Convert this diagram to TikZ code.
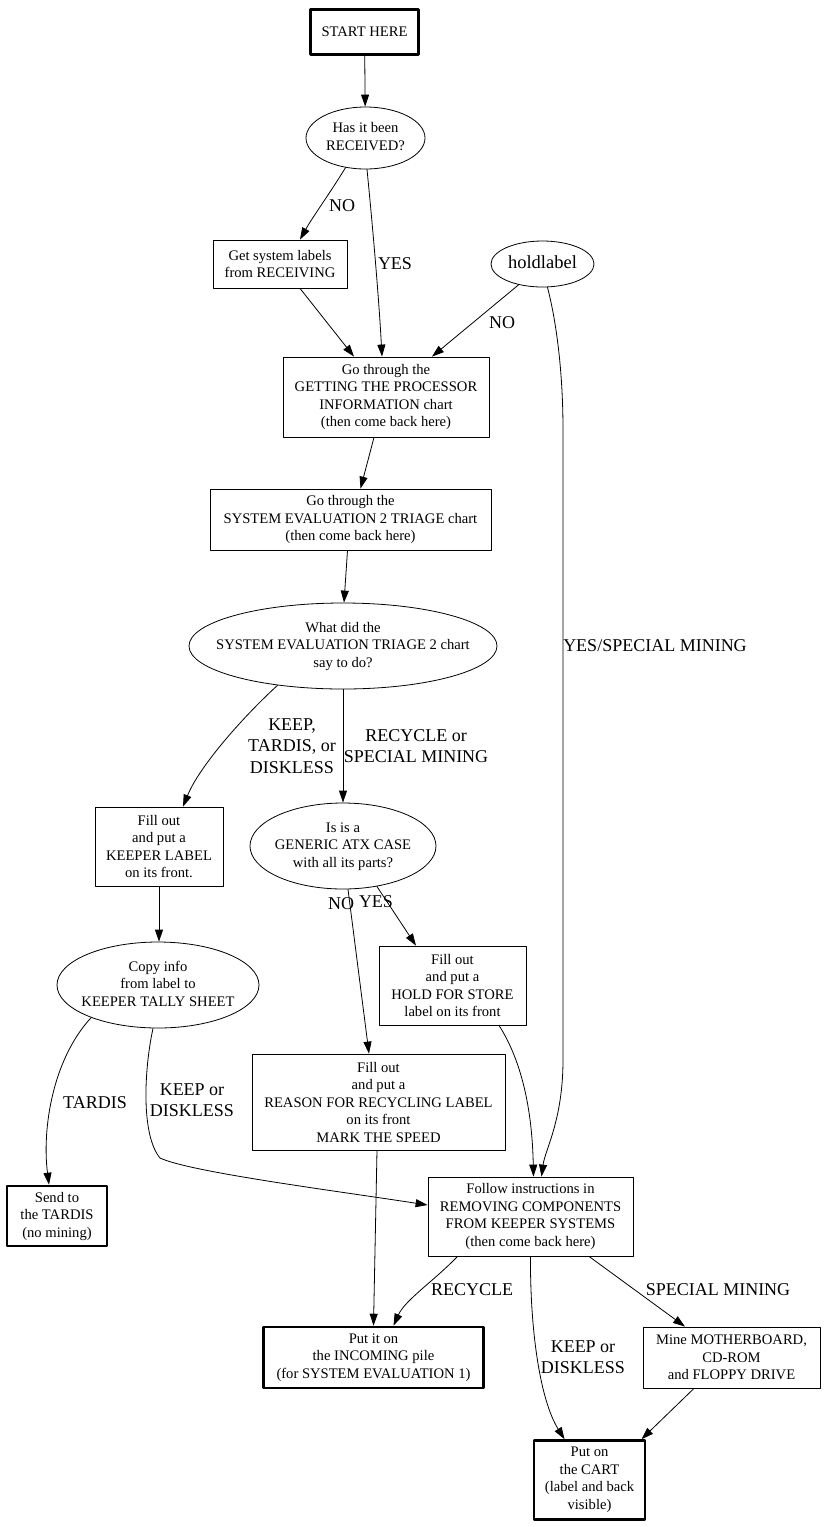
\documentclass[tikz,border=0pt]{standalone}
\usepackage{fontspec}
\setmainfont{Liberation Serif}
\usetikzlibrary{shapes.geometric,arrows.meta}
\newcommand{\qtext}[1]{\makebox[0pt]{\begin{tabular}{@{}c@{}}#1\end{tabular}}}

\begin{document}
\begin{tikzpicture}[x=1pt, y=-1pt, line join=round, line cap=round,
  >={Triangle[length=12pt,width=8pt]},
  box/.style={draw, line width=0.8pt, align=center, inner sep=0pt, font=\fontsize{14.6}{17.5}\selectfont},
  endbox/.style={box, line width=2.6pt},
  ask/.style={box, ellipse},
  lbl/.style={align=center, inner sep=0pt, font=\fontsize{18}{21.5}\selectfont},
  link/.style={->, line width=0.8pt}]
\useasboundingbox (0,0) rectangle (824,1527);
\path
 (364.5,32) node[endbox, minimum width=108pt, minimum height=45pt] (start) {START HERE}
 (365.5,138) node[ask, minimum width=119pt, minimum height=62pt] (received) {\qtext{Has it been\\RECEIVED?}}
 (280,264) node[box, minimum width=134pt, minimum height=48pt] (getlabels) {Get system labels\\from RECEIVING}
 (542.5,264) node[ask, minimum width=103pt, minimum height=46pt, font=\fontsize{18.5}{21}\selectfont] (holdlabel) {\qtext{holdlabel}}
 (386,397) node[box, minimum width=206pt, minimum height=80pt] (procinfo) {Go through the\\GETTING THE PROCESSOR\\INFORMATION chart\\(then come back here)}
 (350.5,519.5) node[box, minimum width=281pt, minimum height=61pt] (triage) {Go through the\\SYSTEM EVALUATION 2 TRIAGE chart\\(then come back here)}
 (343,646) node[ask, minimum width=308pt, minimum height=86pt] (whatdo) {\qtext{What did the\\SYSTEM EVALUATION TRIAGE 2 chart\\say to do?}}
 (159,846.5) node[box, minimum width=128pt, minimum height=79pt] (keeper) {Fill out\\and put a\\KEEPER LABEL\\on its front.}
 (343,846) node[ask, minimum width=186pt, minimum height=86pt] (atx) {\qtext{Is is a\\GENERIC ATX CASE\\with all its parts?}}
 (158,985) node[ask, minimum width=202pt, minimum height=86pt] (tally) {\qtext{Copy info\\from label to\\KEEPER TALLY SHEET}}
 (452.5,985.5) node[box, minimum width=147pt, minimum height=79pt] (holdstore) {Fill out\\and put a\\HOLD FOR STORE\\label on its front}
 (378.5,1102) node[box, minimum width=253pt, minimum height=96pt] (recycle) {Fill out\\and put a\\REASON FOR RECYCLING LABEL\\on its front\\MARK THE SPEED}
 (57,1216) node[endbox, minimum width=100pt, minimum height=60pt] (tardis) {Send to\\the TARDIS\\(no mining)}
 (530.5,1216.5) node[box, minimum width=205pt, minimum height=79pt] (removing) {Follow instructions in\\REMOVING COMPONENTS\\FROM KEEPER SYSTEMS\\(then come back here)}
 (373.5,1357.5) node[endbox, minimum width=220pt, minimum height=61pt] (incoming) {Put it on\\the INCOMING pile\\(for SYSTEM EVALUATION 1)}
 (731.5,1357.5) node[box, minimum width=177pt, minimum height=61pt] (mine) {Mine MOTHERBOARD,\\CD-ROM\\and FLOPPY DRIVE}
 (589.5,1480) node[endbox, minimum width=111pt, minimum height=79pt] (cart) {Put on\\the CART\\(label and back\\visible)}
;
% edge labels
\path
 (342,206) node[lbl] (noreceived) {NO}
 (395,264) node[lbl] (yesreceived) {YES}
 (502,323) node[lbl] (nohold) {NO}
 (655,646) node[lbl] (yeshold) {YES/SPECIAL MINING}
 (292,746) node[lbl] (keepwhat) {KEEP,\\TARDIS, or\\DISKLESS}
 (416,746) node[lbl] (recyclewhat) {RECYCLE or\\SPECIAL MINING}
 (341,904) node[lbl] (noatx) {NO}
 (376,902) node[lbl] (yesatx) {YES}
 (95,1103) node[lbl] (tardistally) {TARDIS}
 (192,1100) node[lbl] (keeptally) {KEEP or\\DISKLESS}
 (472,1290) node[lbl] (recycleremove) {RECYCLE}
 (718,1290) node[lbl] (mineremove) {SPECIAL MINING}
 (583,1357) node[lbl] (keepremove) {KEEP or\\DISKLESS}
;
\draw[link] (start) -- (received);
\draw[link] (received.-124) .. controls (332,190) and (312,218) .. ([xshift=20pt]getlabels.north);
\draw[link] ([xshift=1.5pt]received.south) .. controls (373,230) and (379,300) .. ([xshift=-4pt]procinfo.north);
\draw[link] ([xshift=20pt]getlabels.south) -- ([xshift=-32pt]procinfo.north);
\draw[link] (holdlabel.-139) -- ([xshift=46pt]procinfo.north);
\draw[link] ([xshift=5pt]holdlabel.south) .. controls (556,320) and (563,370) .. (563,430) -- (563,1060)
  .. controls (563,1120) and (545,1150) .. ([xshift=11pt]removing.north);
\draw[link] ([xshift=-12pt]procinfo.south) -- ([xshift=10pt]triage.north);
\draw[link] ([xshift=-3pt]triage.south) -- ([xshift=1pt]whatdo.north);
\draw[link] (whatdo.-149) .. controls (245,715) and (200,765) .. ([xshift=24pt]keeper.north);
\draw[link] (whatdo.south) -- (atx.north);
\draw[link] (keeper.south) -- (keeper.south |- tally.north);
\draw[link] ([xshift=5pt]atx.south) -- ([xshift=-9.5pt]recycle.north);
\draw[link] (atx.-50) -- ([xshift=-36.5pt]holdstore.north);
\draw[link] (tally.-154) .. controls (52,1060) and (42,1130) .. ([xshift=-8pt]tardis.north);
\draw[link] ([xshift=-5pt]tally.south) .. controls (144,1070) and (141,1135) .. (160,1158)
  .. controls (190,1172) and (330,1190) .. ([yshift=11.5pt]removing.west);
\draw[link] ([xshift=46.5pt]holdstore.south) .. controls (518,1055) and (532,1100) .. ([xshift=3pt]removing.north);
\draw[link] ([xshift=-1.5pt]recycle.south) -- (incoming.north);
\draw[link] ([xshift=-73pt]removing.south) .. controls (435,1280) and (405,1300) .. ([xshift=20pt]incoming.north);
\draw[link] (removing.south) .. controls (530,1330) and (540,1400) .. ([xshift=-25pt]cart.north);
\draw[link] ([xshift=58.5pt]removing.south) -- ([xshift=-46.5pt]mine.north);
\draw[link] ([xshift=-37.5pt]mine.south) -- ([xshift=52pt]cart.north);
\end{tikzpicture}
\end{document}
